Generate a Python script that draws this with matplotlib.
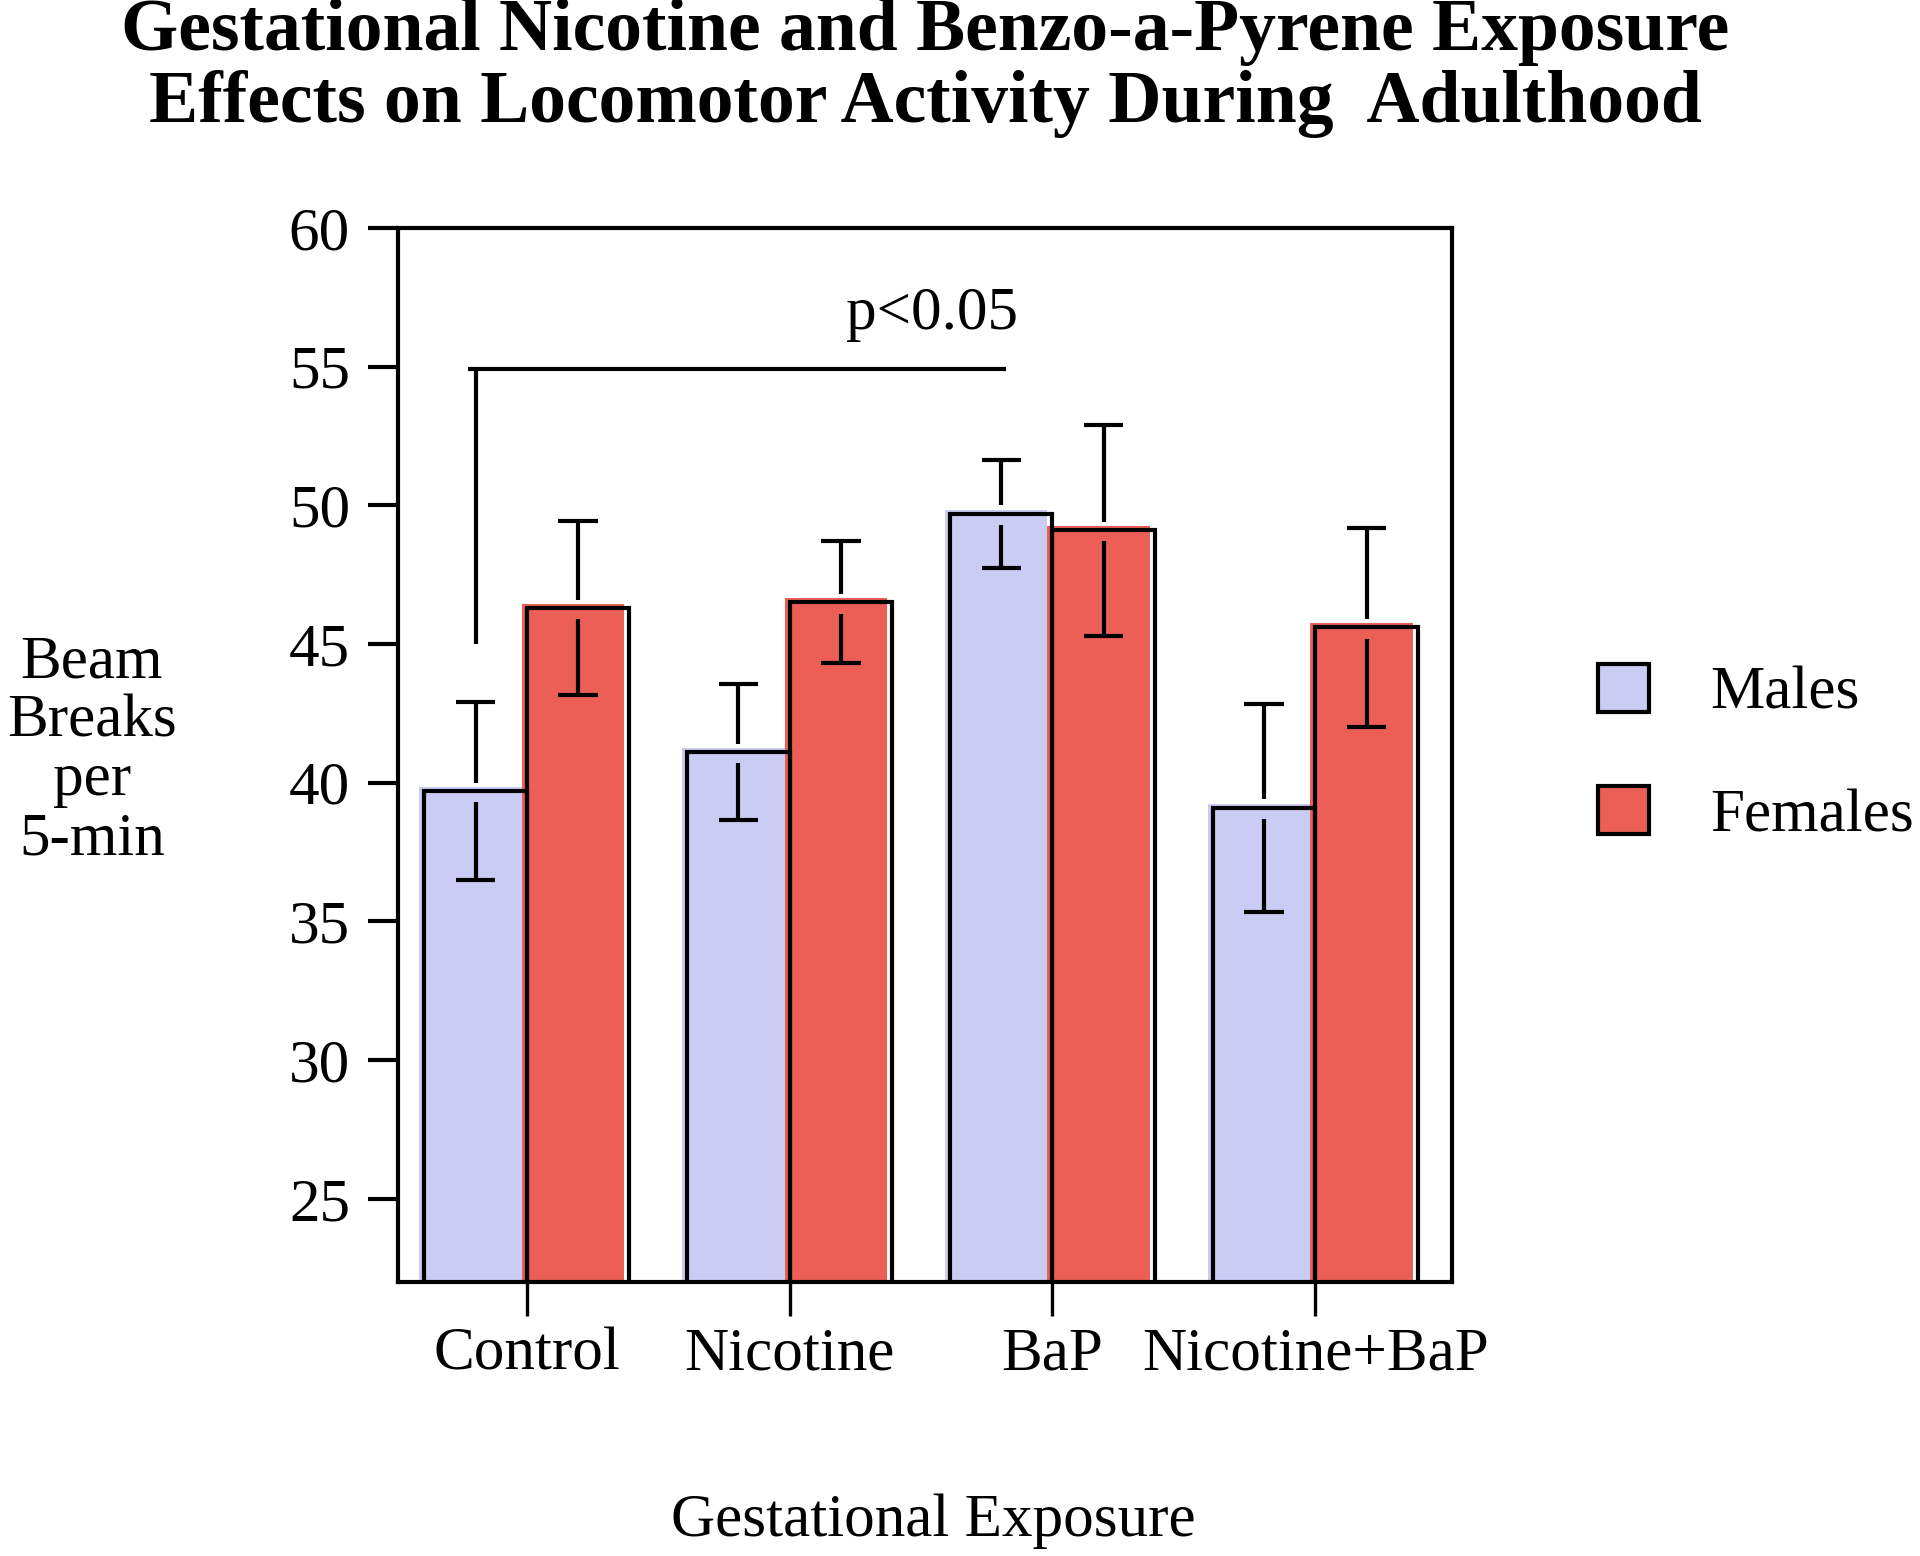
import numpy as np
import matplotlib.pyplot as plt
from matplotlib.patches import Patch
from matplotlib.transforms import offset_copy

plt.rcParams['font.family'] = ['Liberation Serif', 'DejaVu Serif']

# DATA
groups = ['Control', 'Nicotine', 'BaP', 'Nicotine+BaP']
males = [39.7, 41.1, 49.7, 39.1]
females = [46.3, 46.5, 49.1, 45.6]
males_err = [3.2, 2.45, 1.95, 3.75]
females_err = [3.15, 2.2, 3.8, 3.6]
y_ticks = [25, 30, 35, 40, 45, 50, 55, 60]
sig_bottom, sig_top = 45.0, 54.9   # Control vs BaP bracket
sig_label = 'p<0.05'

MALE_C = '#CBCCF4'
FEMALE_C = '#EC5F57'
LW = 3.0
FS = 44

fig = plt.figure(figsize=(19.2, 15.56), dpi=100)
ax = fig.add_axes([398/1920, 1 - 1282/1556, (1452 - 398)/1920, (1282 - 228)/1556])

x = np.arange(len(groups))
w = 0.39

# fill slightly misregistered from the outlines, like the original
shift = offset_copy(ax.transData, fig=fig, x=-5, y=4, units='dots')
m_fill = ax.bar(x - w, males, w, align='edge', color=MALE_C, linewidth=0)
f_fill = ax.bar(x, females, w, align='edge', color=FEMALE_C, linewidth=0)
for p in list(m_fill) + list(f_fill):
    p.set_transform(shift)
ax.bar(x - w, males, w, align='edge', facecolor='none', edgecolor='black', linewidth=LW)
ax.bar(x, females, w, align='edge', facecolor='none', edgecolor='black', linewidth=LW)

# error bars with a small break where they cross the bar top
CAP = 0.075
GAP_UP, GAP_DN = 0.3, 0.4
for xc, mean, err in [(x - w/2, males, males_err), (x + w/2, females, females_err)]:
    mean = np.array(mean)
    err = np.array(err)
    ax.vlines(xc, mean + GAP_UP, mean + err, color='black', linewidth=LW)
    ax.vlines(xc, mean - err, mean - GAP_DN, color='black', linewidth=LW)
    ax.hlines(mean + err, xc - CAP, xc + CAP, color='black', linewidth=LW)
    ax.hlines(mean - err, xc - CAP, xc + CAP, color='black', linewidth=LW)

# significance bracket
x0 = x[0] - w/2
x2 = x[2] - w/2 + 0.02
ax.plot([x0, x0], [sig_bottom, sig_top], color='black', linewidth=LW, solid_capstyle='butt')
ax.plot([x0 - 0.03, x2], [sig_top, sig_top], color='black', linewidth=LW, solid_capstyle='butt')
ax.text(1.54, 56.9, sig_label, ha='center', va='center', fontsize=FS)

ax.set_xlim(-0.49, 3.52)
ax.set_ylim(22, 60)
ax.set_yticks(y_ticks)
ax.set_xticks(x, groups)
ax.tick_params(axis='y', direction='out', length=21.6, width=LW, pad=13, labelsize=FS)
ax.tick_params(axis='x', direction='out', length=24.5, width=LW * 0.8, pad=8, labelsize=FS)
for s in ax.spines.values():
    s.set_linewidth(LW)

handles = [Patch(facecolor=MALE_C, edgecolor='black', linewidth=LW),
           Patch(facecolor=FEMALE_C, edgecolor='black', linewidth=LW)]
fig.legend(handles, ['Males', 'Females'], loc='center left',
           bbox_to_anchor=(1598/1920, 1 - 754/1556), frameon=False,
           borderpad=0, borderaxespad=0, fontsize=FS,
           handlelength=0.84, handleheight=0.84, handletextpad=1.0, labelspacing=1.05)

fig.text(925/1920, 1 - 50/1556, 'Gestational Nicotine and Benzo-a-Pyrene Exposure',
         ha='center', va='baseline', fontsize=53, fontweight='bold')
fig.text(925/1920, 1 - 122/1556, 'Effects on Locomotor Activity During  Adulthood',
         ha='center', va='baseline', fontsize=53, fontweight='bold')

fig.text(92/1920, 1 - 751/1556, 'Beam\nBreaks\nper\n5-min', ha='center', va='center',
         multialignment='center', linespacing=1.08, fontsize=FS)
fig.text(933/1920, 1 - 1521/1556, 'Gestational Exposure', ha='center', va='center', fontsize=FS)

fig.savefig('out.png', dpi=100)
